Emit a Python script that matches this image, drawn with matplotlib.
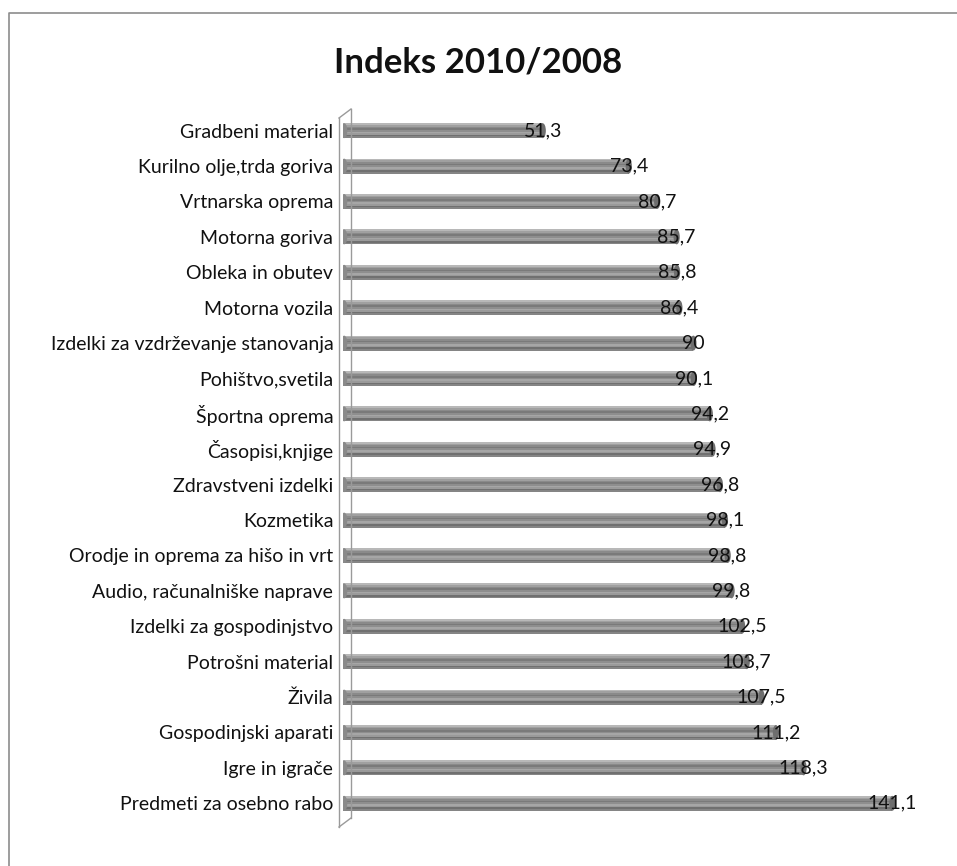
import matplotlib
matplotlib.use("Agg")
import matplotlib.pyplot as plt
from matplotlib.lines import Line2D
from matplotlib.patches import Ellipse

categories = [
    "Gradbeni material",
    "Kurilno olje,trda goriva",
    "Vrtnarska oprema",
    "Motorna goriva",
    "Obleka in obutev",
    "Motorna vozila",
    "Izdelki za vzdrževanje stanovanja",
    "Pohištvo,svetila",
    "Športna oprema",
    "Časopisi,knjige",
    "Zdravstveni izdelki",
    "Kozmetika",
    "Orodje in oprema za hišo in vrt",
    "Audio, računalniške naprave",
    "Izdelki za gospodinjstvo",
    "Potrošni material",
    "Živila",
    "Gospodinjski aparati",
    "Igre in igrače",
    "Predmeti za osebno rabo",
]
values = [51.3, 73.4, 80.7, 85.7, 85.8, 86.4, 90.0, 90.1, 94.2, 94.9,
          96.8, 98.1, 98.8, 99.8, 102.5, 103.7, 107.5, 111.2, 118.3, 141.1]
title = "Indeks 2010/2008"

W, H = 957, 866
plt.rcParams["font.family"] = ["Lato", "DejaVu Sans"]
fig = plt.figure(figsize=(W / 100, H / 100), dpi=100)

# axes placement in pixels
ax_left, ax_right = 343, 927
ax_top, ax_bottom = 113, 821
ax = fig.add_axes([ax_left / W, 1 - ax_bottom / H,
                   (ax_right - ax_left) / W, (ax_bottom - ax_top) / H])
ax.set_xlim(0, 150)
n = len(categories)
ax.set_ylim(n - 0.5, -0.5)

# cylinder look: stacked stripes of gray from top to bottom
bar_h = 0.42
stripes = ["#b8b8b8", "#a0a0a0", "#8a8a8a", "#7a7a7a", "#8e8e8e",
           "#a6a6a6", "#9a9a9a", "#707070", "#858585"]
sh = bar_h / len(stripes)
for i, v in enumerate(values):
    for k, c in enumerate(stripes):
        yc = i - bar_h / 2 + sh * (k + 0.5)
        ax.barh(yc, v, height=sh, color=c, linewidth=0)
    # end caps
    ax.add_patch(Ellipse((v, i), width=1.6, height=bar_h, color="#6e6e6e",
                         linewidth=0, zorder=3))
    ax.add_patch(Ellipse((0.3, i), width=1.6, height=bar_h, color="#8a8a8a",
                         linewidth=0, zorder=3))
    lab = f"{v:.0f}" if float(v).is_integer() else f"{v:.1f}".replace(".", ",")
    ax.text(v, i, lab, ha="center", va="center", fontsize=14,
            color="#111111", zorder=4)

ax.set_yticks(range(n))
ax.set_yticklabels(categories, fontsize=14, color="#111111")
ax.tick_params(axis="y", length=0, pad=7)
ax.set_xticks([])
for s in ax.spines.values():
    s.set_visible(False)


def fx(px):
    return px / W


def fy(py):
    return 1 - py / H


# side wall of the 3-D plot area
wall = [((339, 118), (339, 827)), ((339, 118), (351, 109)),
        ((351, 109), (351, 818)), ((339, 827), (351, 818))]
for (x0, y0), (x1, y1) in wall:
    fig.add_artist(Line2D([fx(x0), fx(x1)], [fy(y0), fy(y1)],
                          transform=fig.transFigure, color="#9a9a9a", lw=1))

# chart border (top and left edges)
fig.add_artist(Line2D([fx(9), fx(9), fx(W)], [fy(H), fy(13), fy(13)],
                      transform=fig.transFigure, color="#8c8c8c", lw=1.2))

fig.text(0.5, fy(62), title, ha="center", va="center", fontsize=25,
         fontweight="bold", color="#111111")

fig.savefig("out.png", dpi=100, facecolor="white")
